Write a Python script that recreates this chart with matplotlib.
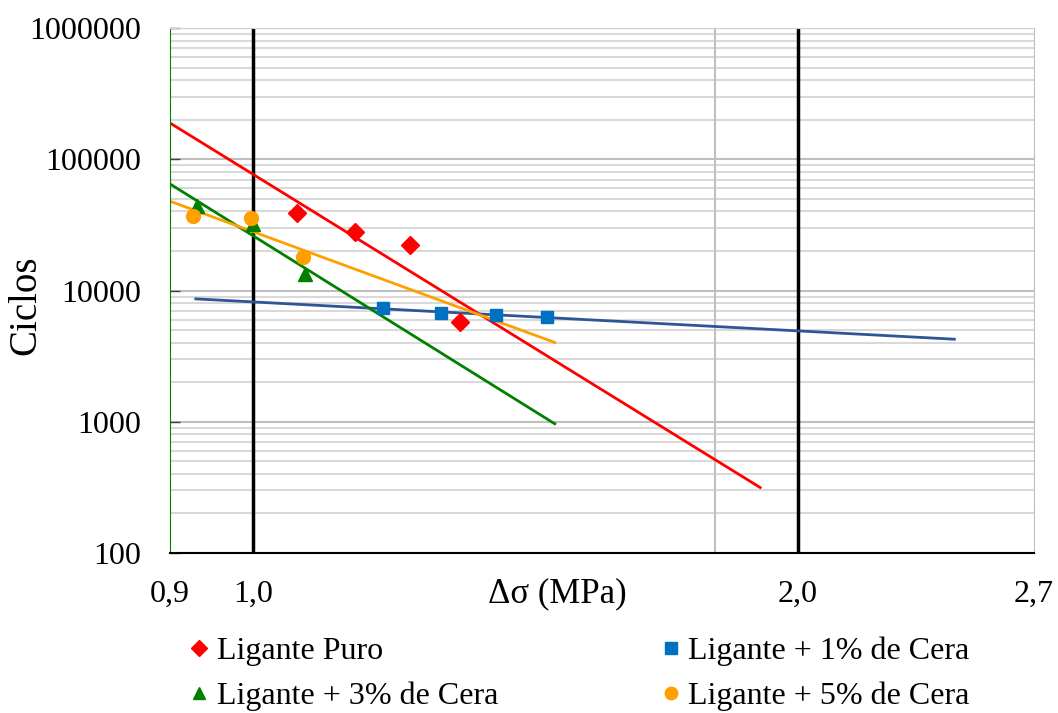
import numpy as np
import matplotlib
matplotlib.use('Agg')
import matplotlib.pyplot as plt
from matplotlib.ticker import FixedLocator, NullFormatter, LogLocator

plt.rcParams['font.family'] = ['Liberation Serif', 'DejaVu Serif']

# datos (tension en MPa, ciclos)
tension_puro = [1.058, 1.139, 1.221, 1.301]
ciclos_puro = [38900, 27900, 22200, 5750]
tension_1 = [1.180, 1.270, 1.362, 1.454]
ciclos_1 = [7350, 6740, 6500, 6280]
tension_3 = [0.931, 1.0, 1.068]
ciclos_3 = [44000, 32000, 13400]
tension_5 = [0.927, 0.998, 1.066]
ciclos_5 = [37000, 35700, 18000]

# rango de las lineas de tendencia (potencial)
rango_puro = [0.9, 1.906]
rango_1 = [0.93, 2.44]
rango_3 = [0.9, 1.468]
rango_5 = [0.9, 1.468]

nombres = ['Ligante Puro', 'Ligante + 1% de Cera',
           'Ligante + 3% de Cera', 'Ligante + 5% de Cera']
xticks = [0.9, 1.0, 2.0, 2.7]
xticklabels = ['0,9', '1,0', '2,0', '2,7']
yticks = [100, 1000, 10000, 100000, 1000000]

fig = plt.figure(figsize=(10.58, 7.13), dpi=100)
ax = fig.add_axes([170/1058, 1-553/713, 864/1058, 525/713])
ax.set_xscale('log')
ax.set_yscale('log')
ax.set_xlim(0.9, 2.7)
ax.set_ylim(100, 1000000)
ax.set_axisbelow(True)

# grilla
ax.yaxis.set_minor_locator(LogLocator(base=10, subs=np.arange(2, 10)))
ax.yaxis.set_minor_formatter(NullFormatter())
ax.grid(which='minor', axis='y', color='#D9D9D9', lw=1.5)
ax.grid(which='major', axis='y', color='#BFBFBF', lw=1.5)
ax.axvline(1.8, color='#BFBFBF', lw=1.5, zorder=0.8)
ax.axvline(1.0, color='black', lw=2.5, zorder=1)
ax.axvline(2.0, color='black', lw=2.5, zorder=1)


def tendencia(x, y, rango, color):
    m, b = np.polyfit(np.log(x), np.log(y), 1)
    xx = np.geomspace(rango[0], rango[1], 50)
    ax.plot(xx, np.exp(b) * xx**m, color=color, lw=2, zorder=2)


tendencia(tension_puro, ciclos_puro, rango_puro, '#FF0000')
tendencia(tension_1, ciclos_1, rango_1, '#2F5597')
tendencia(tension_3, ciclos_3, rango_3, '#008000')
tendencia(tension_5, ciclos_5, rango_5, '#FFA000')

h0, = ax.plot(tension_puro, ciclos_puro, 'D', color='#FF0000', ms=9, ls='none', zorder=3)
h1, = ax.plot(tension_1, ciclos_1, 's', color='#0070C0', ms=9, ls='none', zorder=3)
h2, = ax.plot(tension_3, ciclos_3, '^', color='#008000', ms=10, ls='none', zorder=3)
h3, = ax.plot(tension_5, ciclos_5, 'o', color='#FFA000', ms=10, ls='none', zorder=3)

ax.xaxis.set_major_locator(FixedLocator(xticks))
ax.xaxis.set_minor_locator(FixedLocator([]))
ax.set_xticklabels(xticklabels)
ax.yaxis.set_major_locator(FixedLocator(yticks))
ax.set_yticklabels([str(v) for v in yticks])
ax.tick_params(axis='x', which='major', length=0, pad=19, labelsize=23)
ax.tick_params(axis='y', which='major', direction='in', length=7, width=1,
               color='#404040', pad=21, labelsize=23)
ax.tick_params(axis='y', which='minor', length=0)

ax.spines['left'].set_color('#008000')
ax.spines['bottom'].set_color('black')
ax.spines['bottom'].set_linewidth(1.5)
ax.spines['top'].set_color('#D0D0D0')
ax.spines['right'].set_color('#BFBFBF')

fig.text(26/1058, 1-305/713, 'Ciclos', rotation=90, fontsize=28,
         ha='center', va='center')
ax.text(0.448, -0.078, 'Δσ (MPa)', transform=ax.transAxes, fontsize=25,
        ha='center', va='center')

fig.legend([h0, h2, h1, h3], [nombres[0], nombres[2], nombres[1], nombres[3]],
           ncol=2, loc='upper left', bbox_to_anchor=(169/1058, 1-614/713),
           frameon=False, fontsize=23, handlelength=0.5, handletextpad=0.3,
           columnspacing=5.15, labelspacing=0.5, markerscale=0.9,
           borderpad=0.2)

fig.savefig('out.png', dpi=100)
